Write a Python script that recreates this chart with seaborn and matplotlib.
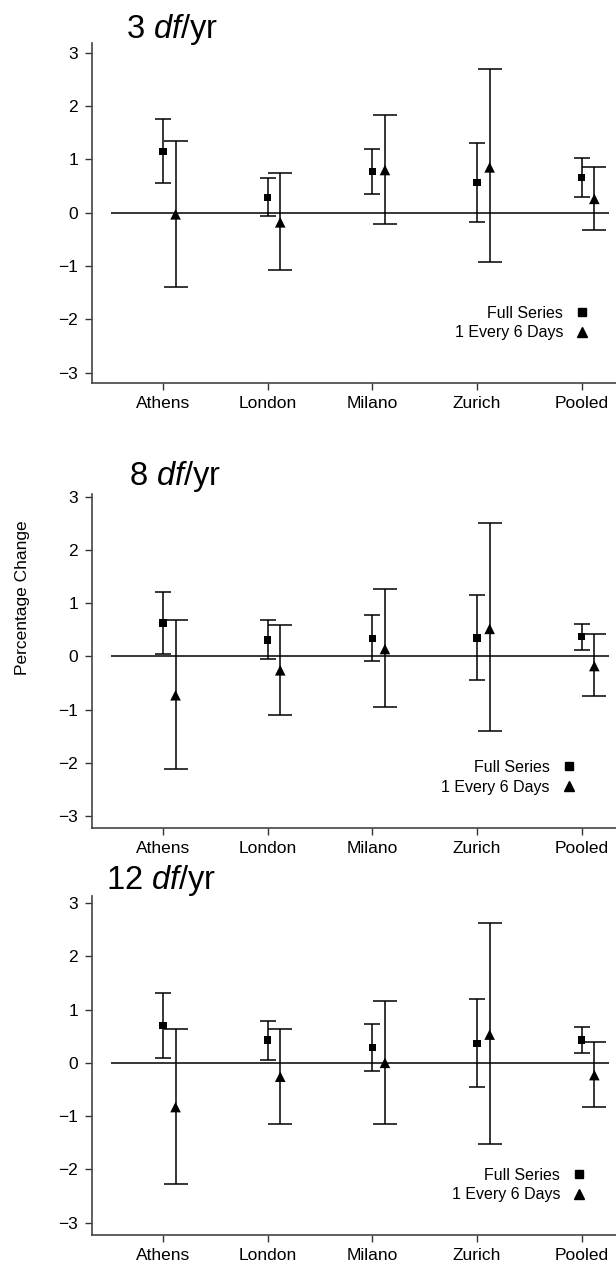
import numpy as np
import pandas as pd
import matplotlib
matplotlib.use("Agg")
import matplotlib.pyplot as plt
from matplotlib.lines import Line2D
import seaborn as sns

# categories
cities = ["Athens", "London", "Milano", "Zurich", "Pooled"]
panels = ["3", "8", "12"]
series_names = ["Full Series", "1 Every 6 Days"]

# 3 df/yr
full_est_3 = [1.15, 0.29, 0.77, 0.56, 0.66]
full_lo_3 = [0.56, -0.07, 0.36, -0.18, 0.30]
full_hi_3 = [1.75, 0.65, 1.19, 1.30, 1.03]
sub_est_3 = [-0.03, -0.18, 0.80, 0.85, 0.26]
sub_lo_3 = [-1.39, -1.08, -0.22, -0.92, -0.32]
sub_hi_3 = [1.34, 0.74, 1.84, 2.70, 0.85]

# 8 df/yr
full_est_8 = [0.63, 0.31, 0.34, 0.35, 0.38]
full_lo_8 = [0.04, -0.05, -0.09, -0.45, 0.13]
full_hi_8 = [1.22, 0.68, 0.78, 1.16, 0.62]
sub_est_8 = [-0.73, -0.26, 0.14, 0.52, -0.18]
sub_lo_8 = [-2.12, -1.11, -0.96, -1.41, -0.74]
sub_hi_8 = [0.68, 0.59, 1.28, 2.51, 0.43]

# 12 df/yr
full_est_12 = [0.70, 0.43, 0.29, 0.37, 0.43]
full_lo_12 = [0.09, 0.06, -0.15, -0.45, 0.19]
full_hi_12 = [1.31, 0.79, 0.73, 1.20, 0.67]
sub_est_12 = [-0.83, -0.26, 0.00, 0.53, -0.23]
sub_lo_12 = [-2.27, -1.15, -1.15, -1.52, -0.83]
sub_hi_12 = [0.63, 0.63, 1.16, 2.63, 0.39]

y_ticks = [-3, -2, -1, 0, 1, 2, 3]
y_tick_labels = ["\u22123", "\u22122", "\u22121", "0", "1", "2", "3"]

sns.set_style("ticks")
plt.rcParams['font.family'] = ['Liberation Sans', 'DejaVu Sans']
plt.rcParams['mathtext.fontset'] = 'custom'
plt.rcParams['mathtext.rm'] = 'Liberation Sans'
plt.rcParams['mathtext.it'] = 'Liberation Sans:italic'
plt.rcParams['text.color'] = 'black'
plt.rcParams['xtick.color'] = 'black'
plt.rcParams['ytick.color'] = 'black'


def build_frame():
    """Long table of estimates and intervals"""
    raw = {
        "3": (full_est_3, full_lo_3, full_hi_3, sub_est_3, sub_lo_3, sub_hi_3),
        "8": (full_est_8, full_lo_8, full_hi_8, sub_est_8, sub_lo_8, sub_hi_8),
        "12": (full_est_12, full_lo_12, full_hi_12, sub_est_12, sub_lo_12, sub_hi_12),
    }
    rows = []
    for p, (fe, fl, fh, se, sl, sh) in raw.items():
        for i, c in enumerate(cities):
            rows.append(dict(panel=p, city=c, idx=i, series=series_names[0],
                             est=fe[i], lo=fl[i], hi=fh[i]))
            rows.append(dict(panel=p, city=c, idx=i, series=series_names[1],
                             est=se[i], lo=sl[i], hi=sh[i]))
    return pd.DataFrame(rows)


df = build_frame()
offsets = {series_names[0]: 0.0, series_names[1]: 0.12}
caps = {series_names[0]: 5.5, series_names[1]: 8.7}
df["pos"] = df["idx"] + df["series"].map(offsets)

W, H = 616, 1266
fig = plt.figure(figsize=(W / 100, H / 100), dpi=100)

# axes boxes in pixels: (top, bottom) and y limits
boxes = [(43, 383, (-3.19, 3.18)), (494, 828, (-3.23, 3.06)), (896, 1235, (-3.23, 3.13))]
title_pos = [(126, 38), (129, 485), (106, 889)]
legend_anchor = [(0.948, 0.125), (0.922, 0.10), (0.942, 0.096)]

for k, p in enumerate(panels):
    top, bot, ylim = boxes[k]
    ax = fig.add_axes([92 / W, 1 - bot / H, (W - 92) / W, (bot - top) / H])
    sub = df[df["panel"] == p]

    ax.hlines(0, -0.5, 4.26, color="black", lw=1.1, zorder=1)

    for s in series_names:
        d = sub[sub["series"] == s]
        ax.errorbar(d["pos"], d["est"],
                    yerr=[d["est"] - d["lo"], d["hi"] - d["est"]],
                    fmt="none", ecolor="black", elinewidth=1.1,
                    capsize=caps[s], capthick=1.1, zorder=2)

    sns.scatterplot(data=sub, x="pos", y="est", style="series",
                    markers={series_names[0]: "s", series_names[1]: "^"},
                    size="series", sizes={series_names[0]: 27, series_names[1]: 58},
                    color="black", linewidth=0, legend=False, ax=ax, zorder=3)

    ax.set_xlim(-0.678, 4.327)
    ax.set_ylim(*ylim)
    ax.set_xticks(range(len(cities)))
    ax.set_xticklabels(cities, fontsize=12.5)
    ax.set_yticks(y_ticks)
    ax.set_yticklabels(y_tick_labels, fontsize=12.5)
    ax.set_xlabel("")
    ax.set_ylabel("")
    ax.tick_params(axis="both", length=5, width=1, color="#333333")
    ax.tick_params(axis="x", pad=4.5)
    ax.tick_params(axis="y", pad=5)
    sns.despine(ax=ax, top=True, right=True)
    for side in ["left", "bottom"]:
        ax.spines[side].set_color("#444444")
        ax.spines[side].set_linewidth(1.2)

    handles = [Line2D([], [], ls="none", marker="s", color="black", markersize=5.5),
               Line2D([], [], ls="none", marker="^", color="black", markersize=6.5)]
    ax.legend(handles, series_names, loc="lower right", markerfirst=False,
              frameon=False, fontsize=11.5, handlelength=0.8, handletextpad=0.8,
              labelspacing=0.3, borderpad=0, borderaxespad=0,
              bbox_to_anchor=legend_anchor[k])

    tx, ty = title_pos[k]
    fig.text(tx / W, 1 - ty / H, p + r" $\mathit{df}$/yr", fontsize=23.5,
             va="baseline", ha="left")

fig.text(23 / W, 1 - 598 / H, "Percentage Change", rotation=90,
         fontsize=12.5, va="center", ha="center")

fig.savefig("out.png", dpi=100)
